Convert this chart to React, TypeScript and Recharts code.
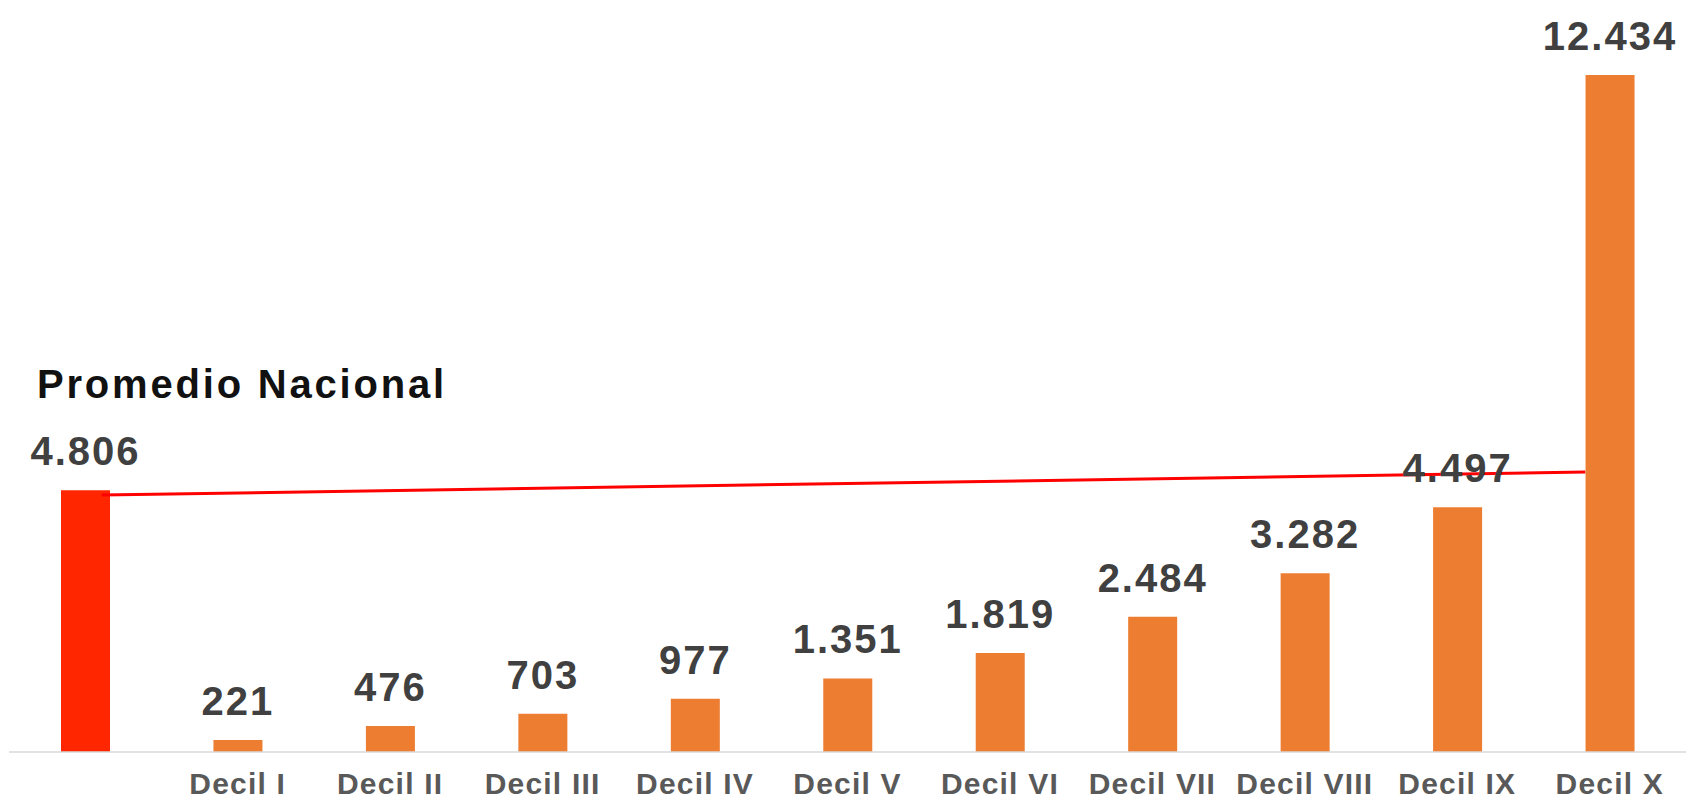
import { BarChart, Bar, XAxis, YAxis, Cell, LabelList, ReferenceLine } from "recharts";

const categories = [
  "Promedio Nacional",
  "Decil I",
  "Decil II",
  "Decil III",
  "Decil IV",
  "Decil V",
  "Decil VI",
  "Decil VII",
  "Decil VIII",
  "Decil IX",
  "Decil X",
];
const values = [4806, 221, 476, 703, 977, 1351, 1819, 2484, 3282, 4497, 12434];
// hand-drawn average line in the original: slightly rising from left to right
const avgLine = [4714, 5148];

const FONT = "'Liberation Sans', Arial, sans-serif";
const BAR = 49;

const fmt = (v: number) => String(v).replace(/\B(?=(\d{3})+(?!\d))/g, ".");

const data = categories.map((name, i) => ({ name, value: values[i] }));

function CategoryTick({ x, y, payload, index }: any) {
  if (index === 0) return null;
  return (
    <text
      x={x}
      y={y}
      dy="0.71em"
      textAnchor="middle"
      fill="#595959"
      fontSize={30}
      fontWeight="bold"
      letterSpacing={1.2}
      fontFamily={FONT}
    >
      {payload.value}
    </text>
  );
}

function ValueLabel({ x, y, width, value, index }: any) {
  const cx = x + width / 2;
  return (
    <g>
      <text
        x={cx}
        y={y - 25}
        textAnchor="middle"
        fill="#404040"
        fontSize={40}
        fontWeight="bold"
        letterSpacing={2}
        fontFamily={FONT}
      >
        {fmt(value)}
      </text>
      {index === 0 && (
        <text
          x={x - 24}
          y={y - 92}
          fill="#111111"
          fontSize={40}
          fontWeight="bold"
          letterSpacing={2.8}
          fontFamily={FONT}
        >
          {categories[0]}
        </text>
      )}
    </g>
  );
}

// line runs from the first bar's right edge to the last bar's left edge
function AvgLineShape(props: any) {
  const { x1, y1, x2, y2 } = props;
  const sx = x1 + BAR / 2 - 8;
  const ex = x2 - BAR / 2;
  const k = (y2 - y1) / (x2 - x1);
  return (
    <line
      x1={sx}
      y1={y1 + k * (sx - x1)}
      x2={ex}
      y2={y1 + k * (ex - x1)}
      stroke="#ff0000"
      strokeWidth={3}
    />
  );
}

export default function App() {
  return (
    <div style={{ position: "absolute", left: 0, top: 0, background: "#fff" }}>
      <BarChart
        width={1707}
        height={801}
        data={data}
        margin={{ top: 17, right: 21, bottom: 0, left: 9 }}
        barSize={BAR}
      >
        <XAxis
          dataKey="name"
          height={49}
          interval={0}
          tickLine={false}
          tickMargin={15}
          axisLine={{ stroke: "#d9d9d9", strokeWidth: 1.5 }}
          tick={<CategoryTick />}
        />
        <YAxis hide domain={[0, 13500]} />
        <Bar dataKey="value" isAnimationActive={false}>
          {data.map((d, i) => (
            <Cell key={d.name} fill={i === 0 ? "#ff2600" : "#ed7d31"} />
          ))}
          <LabelList dataKey="value" content={<ValueLabel />} />
        </Bar>
        <ReferenceLine
          segment={[
            { x: categories[0], y: avgLine[0] },
            { x: categories[categories.length - 1], y: avgLine[1] },
          ]}
          shape={<AvgLineShape />}
        />
      </BarChart>
    </div>
  );
}
